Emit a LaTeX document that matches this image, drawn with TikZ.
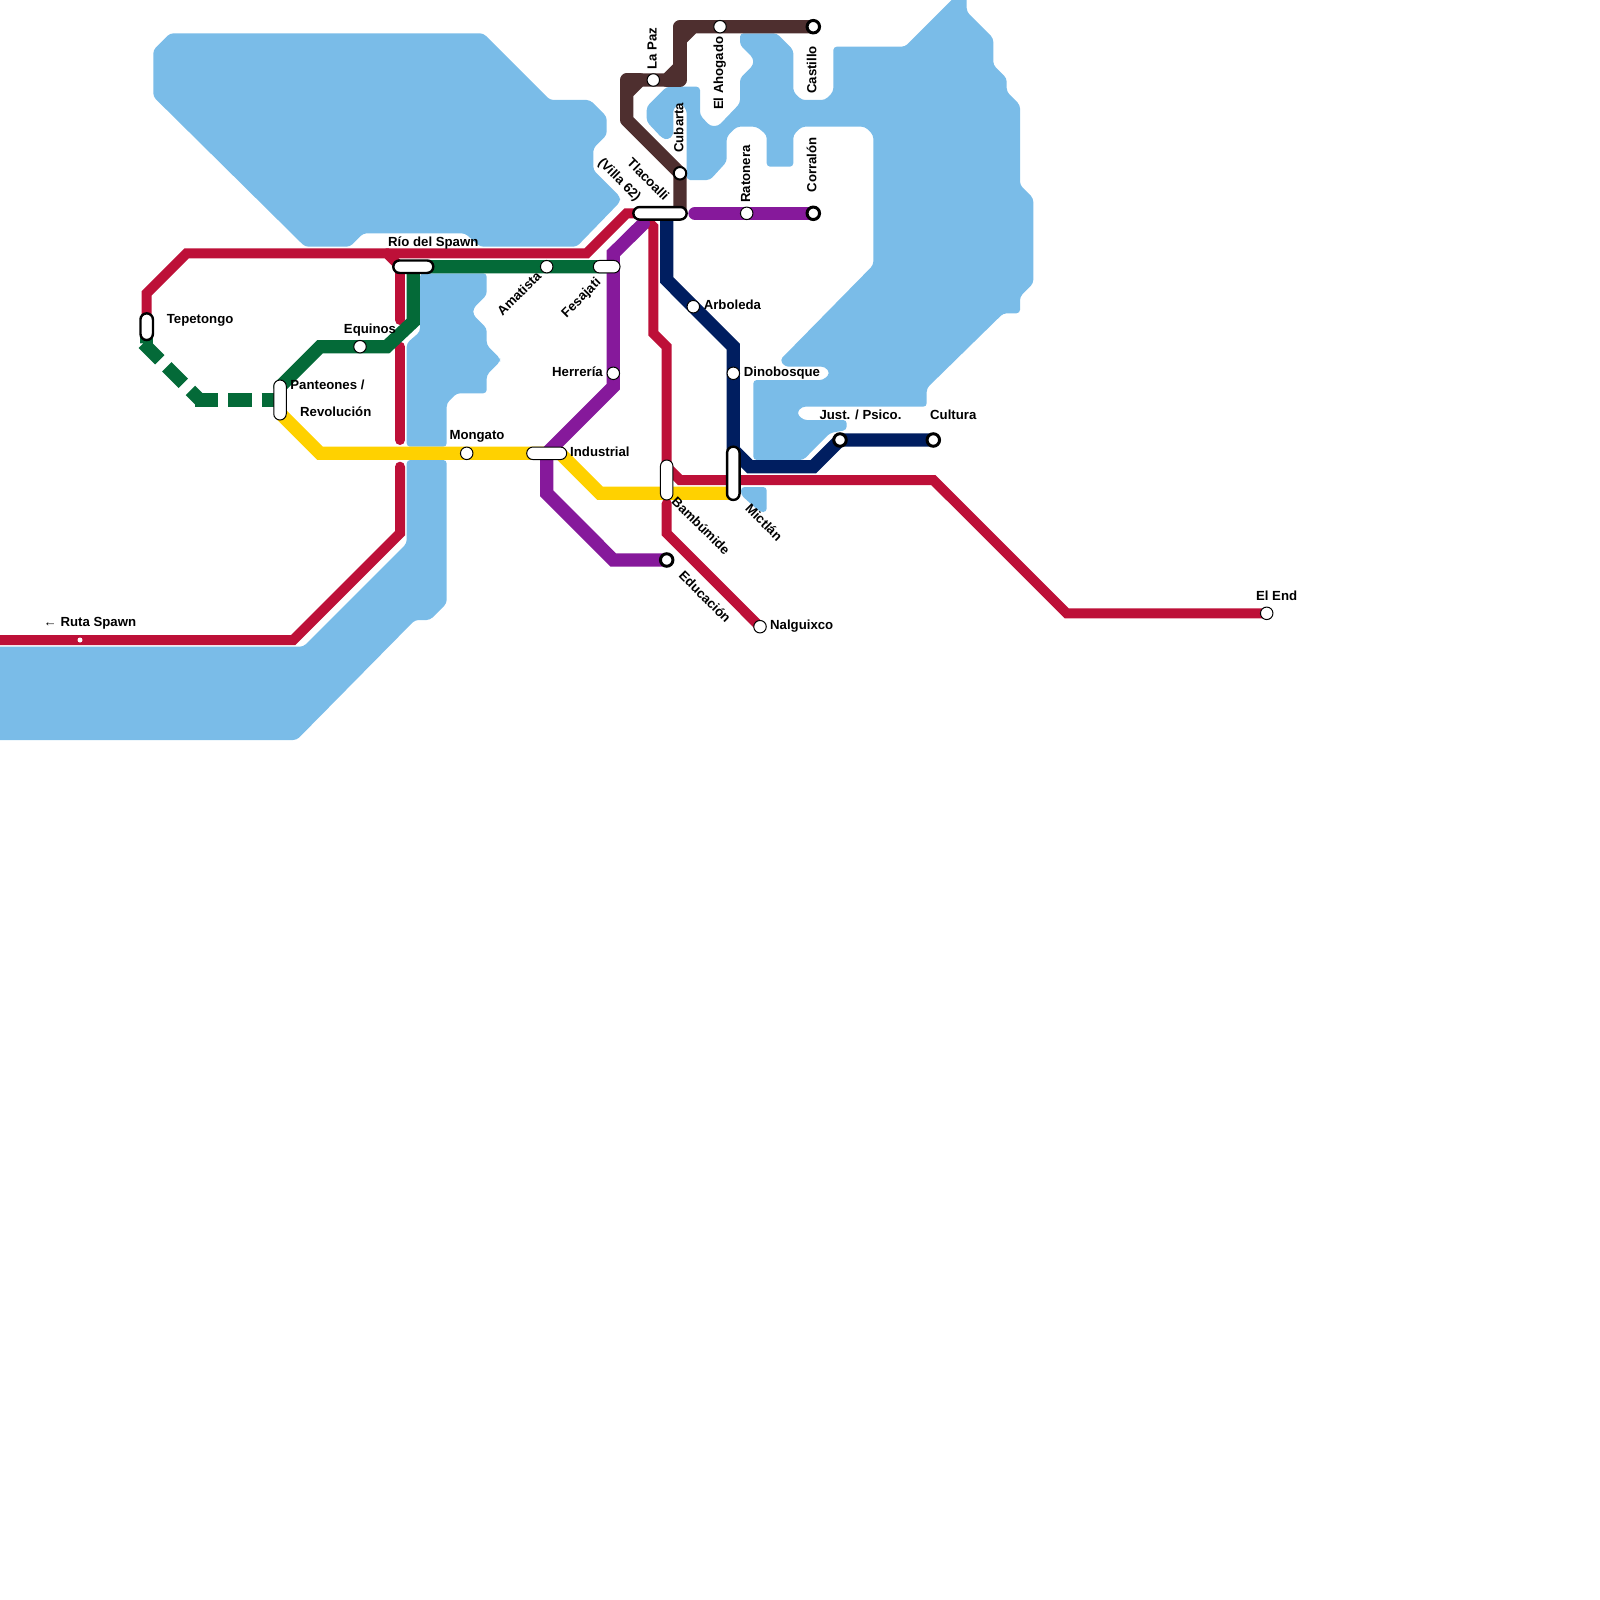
\documentclass[tikz,border=0pt]{standalone}
\usepackage{fontspec}
\setmainfont{Liberation Sans}
\usetikzlibrary{backgrounds}
\pgfdeclarelayer{water}
\pgfdeclarelayer{lines}
\pgfsetlayers{water,lines,main}
\definecolor{watercol}{HTML}{7ABCE8}
\definecolor{redcol}{HTML}{BD1038}
\definecolor{greencol}{HTML}{046A38}
\definecolor{yellowcol}{HTML}{FFD100}
\definecolor{purplecol}{HTML}{86199B}
\definecolor{navycol}{HTML}{001E60}
\definecolor{browncol}{HTML}{4E2F2F}
\tikzset{
  x=1pt,y=-1pt,
  waterbody/.style={fill=watercol,draw=none,rounded corners=3.5pt},
  redline/.style={draw=redcol,line width=10pt,line cap=round,miter limit=10},
  greenline/.style={draw=greencol,line width=13.33pt,line cap=round},
  greendash/.style={draw=greencol,line width=13.33pt,dash pattern=on 23.3pt off 10pt},
  yellowline/.style={draw=yellowcol,line width=13.33pt},
  purpleline/.style={draw=purplecol,line width=13.33pt,line cap=round},
  navyline/.style={draw=navycol,line width=13.33pt},
  brownline/.style={draw=browncol,line width=13.33pt,line join=round,line cap=round},
  stn/.style={circle,draw=black,fill=white,line width=1pt,minimum size=12.5pt,inner sep=0pt},
  term/.style={circle,draw=black,fill=white,line width=3pt,minimum size=12.5pt,inner sep=0pt},
  dotstn/.style={circle,fill=white,draw=none,minimum size=5pt,inner sep=0pt},
  pillh/.style={draw=black,fill=white,line width=1pt,rounded corners=6.2pt,minimum height=12.5pt,inner sep=0pt},
  pillv/.style={draw=black,fill=white,line width=1pt,rounded corners=6.2pt,minimum width=12.5pt,inner sep=0pt},
  thick pill/.style={line width=2.4pt},
  lbl/.style={font=\fontsize{13.2}{15}\selectfont\bfseries,inner sep=0pt,text=black,text height=9.4pt,text depth=0pt},
}
\begin{document}
\begin{tikzpicture}
\useasboundingbox (0,0) rectangle (1600,1600);
% stations
\node[dotstn] (spawn) at (80,640) {};
\node[pillv,thick pill,minimum height=26.7pt] (tepetongo) at (146.7,326.7) {};
\node[pillv,minimum height=40pt] (panteones) at (280,400) {};
\node[stn] (equinos) at (360,346.7) {};
\node[pillh,thick pill,minimum width=40pt] (rio) at (413.3,266.7) {};
\node[stn] (amatista) at (546.7,266.7) {};
\node[pillh,minimum width=26.7pt] (fesajati) at (606.7,266.7) {};
\node[stn] (herreria) at (613.3,373.3) {};
\node[stn] (mongato) at (466.7,453.3) {};
\node[pillh,minimum width=40pt] (industrial) at (546.7,453.3) {};
\node[pillh,thick pill,minimum width=53.3pt] (tlacoalli) at (660,213.3) {};
\node[stn] (lapaz) at (653.3,80) {};
\node[stn] (ahogado) at (720,26.7) {};
\node[term] (castillo) at (813.3,26.7) {};
\node[stn,line width=2pt] (cubarta) at (680,173.3) {};
\node[stn] (ratonera) at (746.7,213.3) {};
\node[term] (corralon) at (813.3,213.3) {};
\node[stn] (arboleda) at (693.3,306.7) {};
\node[stn] (dinobosque) at (733.3,373.3) {};
\node[pillv,minimum height=40pt] (bambumide) at (666.7,480) {};
\node[pillv,thick pill,minimum height=53.3pt] (mictlan) at (733.3,473.3) {};
\node[term] (just) at (840,440) {};
\node[term] (cultura) at (933.3,440) {};
\node[term] (educacion) at (666.7,560) {};
\node[stn] (nalguixco) at (760,626.7) {};
\node[stn] (elend) at (1266.7,613.3) {};
% attachment points on the long stations
\coordinate (pantop) at (280,386.7);
\coordinate (panbot) at (280,413.3);
\coordinate (riored) at (400,266.7);
\coordinate (fespurple) at (613.3,266.7);
\coordinate (bamred) at (666.7,466.7);
\coordinate (bamyellow) at (666.7,493.3);
\coordinate (micyellow) at (733.3,493.3);
\coordinate (micnavy) at (733.3,450);
\coordinate (tlanavy) at (666.7,215);
\coordinate (tlabrown) at (680,213.3);
% labels
\node[lbl,anchor=west] (ltepetongo) at (166.7,318.3) {Tepetongo};
\node[lbl] (lequinos) at (370,328.3) {Equinos};
\node[lbl,anchor=west] (lpanteones) at (290.2,385) {Panteones /};
\node[lbl,anchor=west] (lrevolucion) at (300,411.7) {Revolución};
\node[lbl,anchor=west] (lrio) at (388,241.7) {Río del Spawn};
\node[lbl,anchor=west] (lmongato) at (449.3,435) {Mongato};
\node[lbl,rotate=45] (lamatista) at (519,293.3) {Amatista};
\node[lbl,rotate=45] (lfesajati) at (580.7,297.3) {Fesajati};
\node[lbl,anchor=east] (lherreria) at (603,372) {Herrería};
\node[lbl,anchor=west] (lindustrial) at (570,451.7) {Industrial};
\node[lbl,rotate=-45] (ltlacoalli) at (648.3,179.3) {Tlacoalli};
\node[lbl,rotate=-45] (lvilla) at (620,179.3) {(Villa 62)};
\node[lbl,rotate=90] (llapaz) at (652,48.3) {La Paz};
\node[lbl,rotate=90] (lahogado) at (718.3,73.3) {El Ahogado};
\node[lbl,rotate=90] (lcastillo) at (811.7,70) {Castillo};
\node[lbl,rotate=90] (lcubarta) at (678.7,127.7) {Cubarta};
\node[lbl,rotate=90] (lratonera) at (745.3,174) {Ratonera};
\node[lbl,rotate=90] (lcorralon) at (811.7,165) {Corralón};
\node[lbl,anchor=west] (larboleda) at (703.6,305) {Arboleda};
\node[lbl,anchor=west] (ldinobosque) at (743.6,371.7) {Dinobosque};
\node[lbl,anchor=west] (ljust) at (819.3,415) {Just. / Psico.};
\node[lbl,anchor=west] (lcultura) at (930,415) {Cultura};
\node[lbl,rotate=-45] (lbambumide) at (701,525.7) {Bambúmide};
\node[lbl,rotate=-45] (lmictlan) at (764,522.3) {Mictlán};
\node[lbl,rotate=-45] (leducacion) at (705,596.7) {Educación};
\node[lbl,anchor=west] (lnalguixco) at (770,625) {Nalguixco};
\node[lbl] (lelend) at (1276.6,596) {El End};
\node[lbl,anchor=west] (lspawn) at (43.5,621.7) {← Ruta Spawn};
\begin{pgfonlayer}{lines}
% red
\draw[redline] (-10,640) -- (spawn.center) -- (293.3,640) -- (400,533.3) -- (400,466.7);
\draw[redline] (400,440) -- (400,346.7);
\draw[redline] (400,320) -- (riored);
\draw[redline] (tepetongo.center) -- (146.7,293.3) -- (186.7,253.3) -- (386.7,253.3) -- (riored);
\draw[redline] (386.7,253.3) -- (586.7,253.3) -- (626.7,213.3) -- (tlacoalli.center);
\draw[redline] (640,213.3) -- (653.3,226.7) -- (653.3,333.3) -- (666.7,346.7) -- (bamred) -- (680,480) -- (933.3,480) -- (1066.7,613.3) -- (elend.center);
\draw[redline] (666.7,503.3) -- (666.7,533.3) -- (nalguixco.center);
% green
\draw[greendash] (tepetongo.center) -- (146.7,343.3) -- (143.3,343.3);
\draw[greendash] (143.3,343.3) -- (200,400);
\draw[greendash] (195,400) -- (panteones.center);
\draw[greenline] (pantop) -- (320,346.7) -- (equinos.center) -- (386.7,346.7) -- (413.3,321.7) -- (rio.center) -- (amatista.center) -- (fesajati.center);
% yellow
\draw[yellowline] (panbot) -- (320,453.3) -- (mongato.center) -- (industrial.center) -- (560,453.3) -- (600,493.3) -- (bamyellow) -- (micyellow);
% purple
\draw[purpleline] (643.3,223.7) -- (613.3,253.3) -- (fespurple) -- (herreria.center) -- (613.3,386.7) -- (industrial.center) -- (546.7,493.3) -- (613.3,560) -- (educacion.center);
\draw[purpleline] (695,213.3) -- (ratonera.center) -- (corralon.center);
% navy
\draw[navyline] (tlanavy) -- (666.7,280) -- (arboleda.center) -- (733.3,346.7) -- (dinobosque.center) -- (micnavy);
\draw[navyline] (micnavy) -- (750,466.7) -- (813.3,466.7) -- (just.center) -- (cultura.center);
% brown
\draw[brownline] (castillo.center) -- (ahogado.center) -- (693.3,26.7) -- (680,40) -- (680,66.7) -- (666.7,80) -- (lapaz.center) -- (640,80) -- (626.7,93.3) -- (626.7,120) -- (cubarta.center) -- (tlabrown);
\draw[brownline] (693.3,26.7) -- (680,26.7) -- (680,80) -- (666.7,80);
\draw[brownline] (640,80) -- (626.7,80) -- (626.7,93.3);
\end{pgfonlayer}
\begin{pgfonlayer}{water}
\path[waterbody] (170,33.3) -- (483.3,33.3) -- (550,100) -- (590,100) -- (606.7,116.7) -- (606.7,135) -- (593.3,148.3) -- (593.3,170) -- (620,196.7) -- (620,202) -- (576.7,246.7) -- (480,246.7) -- (465,233.3) -- (363.3,233.3) -- (350,246.7) -- (305,246.7) -- (153.3,96.7) -- (153.3,50) -- cycle;
\path[waterbody] (420,273.3) -- (486.7,273.3) -- (486.7,295) -- (473.3,308.3) -- (473.3,315) -- (486.7,328.3) -- (486.7,345) -- (500,358.3) -- (500,361.7) -- (486.7,375) -- (486.7,393.3) -- (456.7,393.3) -- (446.7,403.3) -- (446.7,446.7) -- (406.7,446.7) -- (406.7,343.3) -- (420,331.7) -- cycle;
\path[waterbody] (406.7,460) -- (446.7,460) -- (446.7,603.3) -- (430,620) -- (415,620) -- (296.7,740) -- (-5,740) -- (-5,646.7) -- (303.3,646.7) -- (406.7,543.3) -- cycle;
\path[waterbody] (956.7,-5) -- (966.7,-5) -- (966.7,11.7) -- (993.3,38.3) -- (993.3,65) -- (1006.7,78.3) -- (1006.7,91.7) -- (1020,105) -- (1020,185) -- (1033.3,198.3) -- (1033.3,283.3) -- (1020,296.7) -- (1020,313.3) -- (1003.3,313.3) -- (926.7,388.3) -- (926.7,406.7) -- (801.7,406.7) -- (796.7,413.3) -- (803.3,420) -- (846.7,420) -- (846.7,430) -- (830,433) -- (803.3,460) -- (753.3,460) -- (753.3,380) -- (823.3,380) -- (830,373.3) -- (825,366.7) -- (785,366.7) -- (780,360) -- (873.3,265) -- (873.3,135) -- (865,126.7) -- (801.7,126.7) -- (793.3,135) -- (793.3,166.7) -- (766.7,166.7) -- (766.7,135) -- (756.7,126.7) -- (736.7,126.7) -- (726.7,136.7) -- (726.7,161.7) -- (710,180) -- (686.7,180) -- (686.7,110) -- (681,103.3) -- (673.3,108.3) -- (673.3,135) -- (668,140) -- (662,138) -- (646.7,121.7) -- (646.7,106.7) -- (666.7,86.7) -- (700,86.7) -- (700,115) -- (710,126) -- (718.3,126) -- (740,103.3) -- (740,78.3) -- (753.3,65) -- (753.3,58.3) -- (740,45) -- (740,33.3) -- (776.7,33.3) -- (793.3,50) -- (793.3,91.7) -- (801.7,100) -- (825,100) -- (833.3,91.7) -- (833.3,46.7) -- (905,46.7) -- cycle;
\path[waterbody] (741,487) -- (766.7,487) -- (766.7,512) -- (760,512) -- (741,495) -- cycle;
\end{pgfonlayer}
\end{tikzpicture}
\end{document}
